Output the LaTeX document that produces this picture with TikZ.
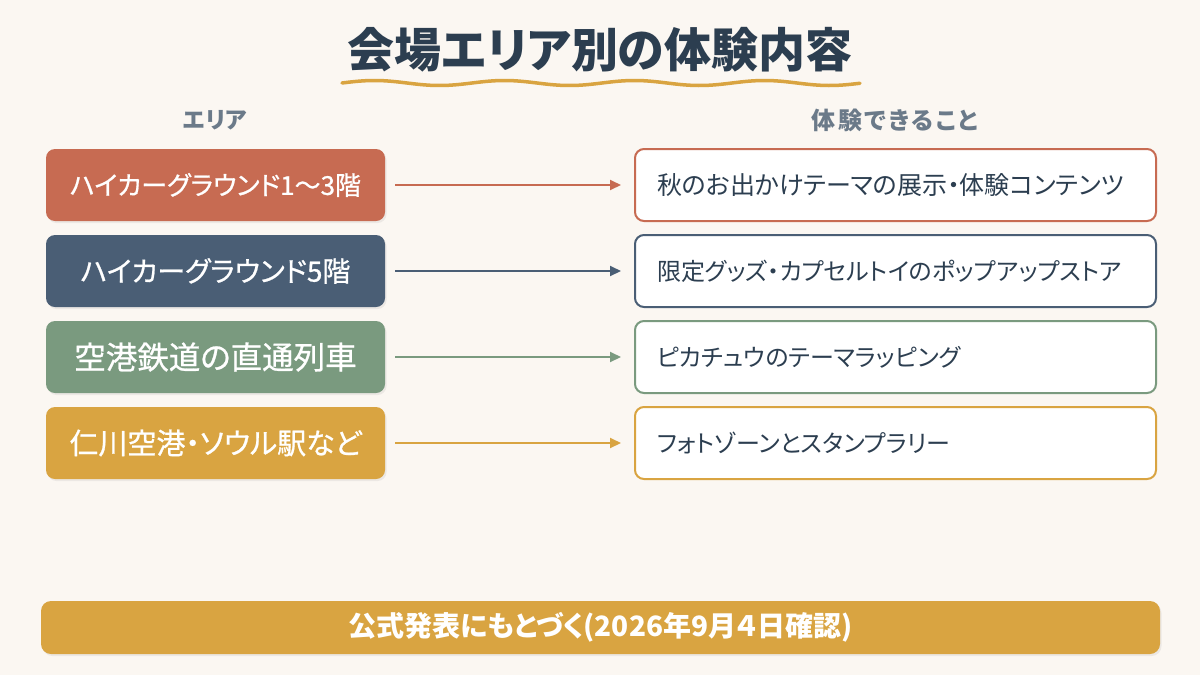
\documentclass[tikz,border=0pt]{standalone}
\usepackage{fontspec}
\setmainfont{Noto Sans CJK JP}[RawFeature=+palt]
\newfontfamily\medjp{Noto Sans CJK JP}[RawFeature=+palt, FakeBold=0.8]
\usetikzlibrary{arrows.meta,shadows}
\definecolor{bg}{HTML}{FBF7F2}
\definecolor{cA}{HTML}{C76B52}
\definecolor{cB}{HTML}{4A5E75}
\definecolor{cC}{HTML}{7A9A7F}
\definecolor{cD}{HTML}{D9A441}
\definecolor{ink}{HTML}{2C3E50}
\definecolor{hdr}{HTML}{6B7A89}
\tikzset{
  areabox/.style={rounded corners=9pt, minimum width=339pt, minimum height=72pt, inner sep=0pt,
    text=white, font=\medjp\fontsize{28}{32}\selectfont,
    drop shadow={opacity=0.12, shadow xshift=1.5pt, shadow yshift=-2pt}},
  expbox/.style={rounded corners=9pt, line width=2pt, fill=white, minimum height=72pt,
    text width=477pt, inner xsep=22pt, inner ysep=0pt, align=left, text=ink,
    font=\fontsize{24}{28}\selectfont},
  link/.style={line width=2pt, -{Triangle[length=11pt,width=10pt]}, shorten <=10pt, shorten >=13pt},
  header/.style={text=hdr, font=\fontsize{23}{27}\selectfont\bfseries},
}
\begin{document}
\begin{tikzpicture}[x=1pt,y=-1pt]
\useasboundingbox (0,0) rectangle (1200,675);
\fill[bg] (0,0) rectangle (1200,675);
% title
\node[text=ink, font=\fontsize{47}{52}\selectfont\bfseries] (title) at (600,50) {会場エリア別の体験内容};
\draw[cD, line width=3.5pt, line cap=round] plot[domain=342:860, samples=200] (\x, {83 - 2.5*sin((\x-342)*2.769)});
% headers
\node[header] (h1) at (215,120) {エリア};
\node[header, font=\fontsize{24}{28}\selectfont\bfseries\addfontfeature{LetterSpace=10}] (h2) at (895,120) {体験できること};
% rows
\node[areabox, fill=cA, font=\medjp\fontsize{26}{30}\selectfont] (a1) at (215.5,185) {ハイカーグラウンド1〜3階};
\node[areabox, fill=cB] (a2) at (215.5,271) {ハイカーグラウンド5階};
\node[areabox, fill=cC, font=\medjp\fontsize{31.5}{36}\selectfont] (a3) at (215.5,357) {空港鉄道の直通列車};
\node[areabox, fill=cD, font=\medjp\fontsize{29}{33}\selectfont] (a4) at (215.5,443) {仁川空港・ソウル駅など};
\node[expbox, draw=cA, font=\fontsize{25}{29}\selectfont] (e1) at (895.5,185) {秋のお出かけテーマの展示・体験コンテンツ};
\node[expbox, draw=cB] (e2) at (895.5,271) {限定グッズ・カプセルトイのポップアップストア};
\node[expbox, draw=cC] (e3) at (895.5,357) {ピカチュウのテーマラッピング};
\node[expbox, draw=cD] (e4) at (895.5,443) {フォトゾーンとスタンプラリー};
\draw[link, cA] (a1) -- (e1);
\draw[link, cB] (a2) -- (e2);
\draw[link, cC] (a3) -- (e3);
\draw[link, cD] (a4) -- (e4);
% footer
\node[fill=cD, rounded corners=10pt, minimum width=1119pt, minimum height=53pt, inner sep=0pt,
  text=white, font=\fontsize{28}{32}\selectfont\bfseries,
  drop shadow={opacity=0.12, shadow xshift=1.5pt, shadow yshift=-2pt}] (foot) at (600.5,627.5) {公式発表にもとづく(2026年9月４日確認)};
\end{tikzpicture}
\end{document}
